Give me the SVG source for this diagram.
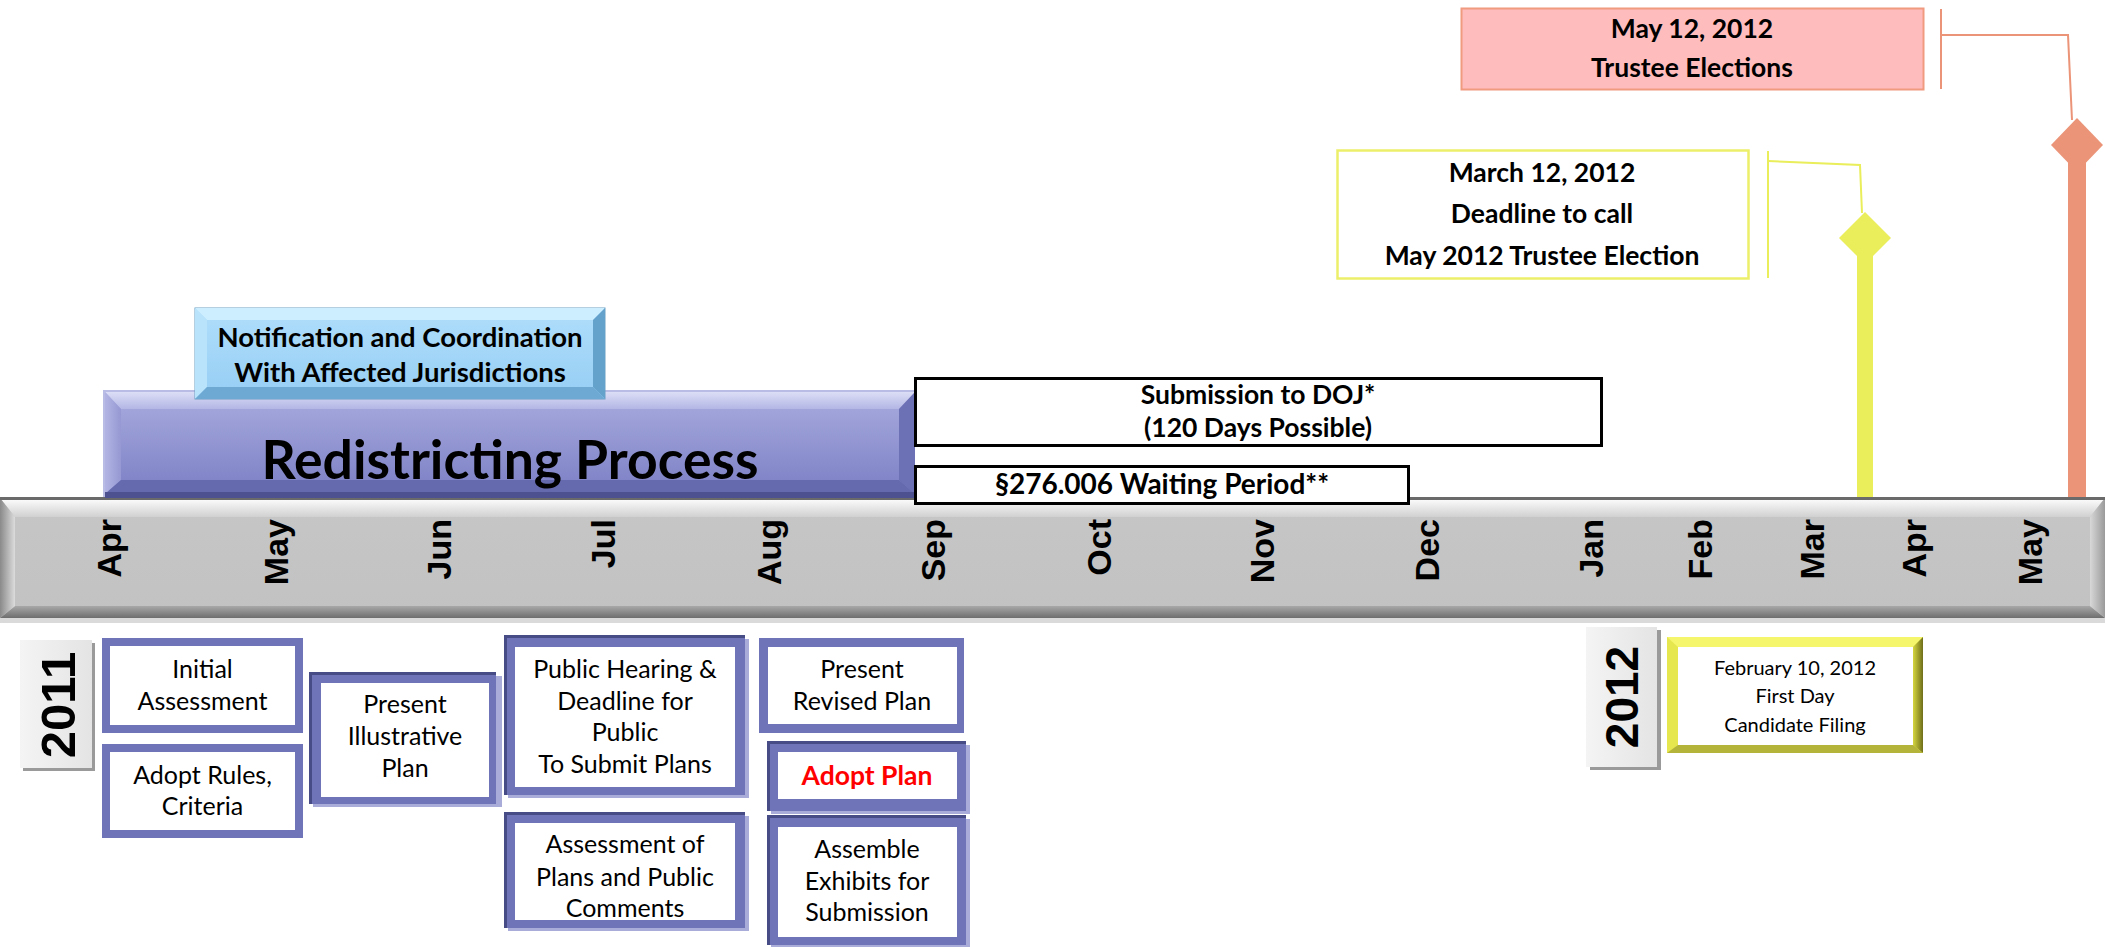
<svg xmlns="http://www.w3.org/2000/svg" width="2105" height="947" viewBox="0 0 2105 947">
<defs>
<linearGradient id="gBar" x1="0" y1="0" x2="0" y2="1">
<stop offset="0" stop-color="#c6c6c6"/><stop offset="1" stop-color="#c2c2c2"/>
</linearGradient>
<linearGradient id="gBarTop" x1="0" y1="0" x2="0" y2="1">
<stop offset="0" stop-color="#ffffff"/><stop offset="1" stop-color="#d0d0d0"/>
</linearGradient>
<linearGradient id="gBarBot" x1="0" y1="0" x2="0" y2="1">
<stop offset="0" stop-color="#a8a8a8"/><stop offset="1" stop-color="#6e6e6e"/>
</linearGradient>
<linearGradient id="gBarLeft" x1="0" y1="0" x2="1" y2="0">
<stop offset="0" stop-color="#8a8a8a"/><stop offset="1" stop-color="#dcdcdc"/>
</linearGradient>
<linearGradient id="gBarRight" x1="0" y1="0" x2="1" y2="0">
<stop offset="0" stop-color="#d8d8d8"/><stop offset="1" stop-color="#9a9a9a"/>
</linearGradient>
<linearGradient id="gRed" x1="0" y1="0" x2="0" y2="1">
<stop offset="0" stop-color="#a9acde"/><stop offset="1" stop-color="#7a7ec4"/>
</linearGradient>
<linearGradient id="gRedTop" x1="0" y1="0" x2="0" y2="1">
<stop offset="0" stop-color="#dcdef6"/><stop offset="1" stop-color="#b3b6e4"/>
</linearGradient>
<linearGradient id="gRedLeft" x1="0" y1="0" x2="1" y2="0">
<stop offset="0" stop-color="#b2b5e3"/><stop offset="1" stop-color="#9598d2"/>
</linearGradient>
<linearGradient id="gNot" x1="0" y1="0" x2="0" y2="1">
<stop offset="0" stop-color="#b0defb"/><stop offset="1" stop-color="#96cef4"/>
</linearGradient>
<linearGradient id="gYel" x1="0" y1="0" x2="1" y2="0">
<stop offset="0" stop-color="#d6d640"/><stop offset="1" stop-color="#6f6f1a"/>
</linearGradient>
<linearGradient id="gYear" x1="0" y1="0" x2="1" y2="0">
<stop offset="0" stop-color="#f4f4f4"/><stop offset="1" stop-color="#e4e4e4"/>
</linearGradient>
</defs>
<style>
.t{font-family:Lato,"Open Sans","Liberation Sans",sans-serif;font-size:25px;text-anchor:middle;fill:#000}
.b{font-weight:bold;font-size:26.5px}
.m{font-family:"Liberation Sans",Arial,sans-serif;font-weight:bold;font-size:34px;text-anchor:end;fill:#000}
.yr{font-family:"Liberation Sans",Arial,sans-serif;font-weight:bold;text-anchor:middle;fill:#000}
.frame{fill:#6f74b9}
.inner{fill:#ffffff}
.shadow{fill:#a9acd9}
.edge{fill:#474b86}
</style>

<g id="connectors">
<polyline points="1941,35 2068,35 2072,120" fill="none" stroke="#eb9478" stroke-width="2"/>
<line x1="1941" y1="9" x2="1941" y2="89" stroke="#eb9478" stroke-width="2"/>
<polyline points="1768,161 1860,165 1862,213" fill="none" stroke="#e9ee5a" stroke-width="2"/>
<line x1="1768" y1="151" x2="1768" y2="278" stroke="#e9ee5a" stroke-width="2"/>
</g>

<g id="pole-may">
<rect x="2068" y="140" width="18" height="360" fill="#eb9478"/>
<polygon points="2077,118 2103,145 2077,172 2051,145" fill="#eb9478"/>
</g>
<g id="pole-march">
<rect x="1857" y="235" width="16" height="265" fill="#e9ee5a"/>
<polygon points="1865,212 1891,238 1865,264 1839,238" fill="#e9ee5a"/>
</g>

<g id="trustee-elections">
<rect x="1461.5" y="8.5" width="462" height="81" fill="#ffbcbc" stroke="#f09a80" stroke-width="2"/>
<text class="t b" x="1692" y="38">May 12, 2012</text>
<text class="t b" x="1692" y="77">Trustee Elections</text>
</g>

<g id="march-deadline">
<rect x="1337.5" y="150.5" width="411" height="128" fill="#ffffff" stroke="#ecef6a" stroke-width="2.5"/>
<text class="t b" x="1542" y="182">March 12, 2012</text>
<text class="t b" x="1542" y="223">Deadline to call</text>
<text class="t b" x="1542" y="265">May 2012 Trustee Election</text>
</g>

<g id="timeline-bar">
<rect x="0" y="617" width="2105" height="6" fill="#dadada"/>
<rect x="0" y="498" width="2105" height="120" fill="url(#gBar)"/>
<polygon points="0,498 2105,498 2090,517 15,517" fill="url(#gBarTop)"/>
<polygon points="0,618 15,606 2090,606 2105,618" fill="url(#gBarBot)"/>
<polygon points="0,498 15,517 15,606 0,618" fill="url(#gBarLeft)"/>
<polygon points="2105,498 2090,517 2090,606 2105,618" fill="url(#gBarRight)"/>
<rect x="0" y="497" width="2105" height="3" fill="#6a6a6a"/>
<text class="m" x="121" y="519" transform="rotate(-90 121 519)">Apr</text>
<text class="m" x="288" y="519" transform="rotate(-90 288 519)">May</text>
<text class="m" x="451" y="519" transform="rotate(-90 451 519)">Jun</text>
<text class="m" x="615" y="519" transform="rotate(-90 615 519)">Jul</text>
<text class="m" x="781" y="519" transform="rotate(-90 781 519)">Aug</text>
<text class="m" x="945" y="519" transform="rotate(-90 945 519)">Sep</text>
<text class="m" x="1111" y="519" transform="rotate(-90 1111 519)">Oct</text>
<text class="m" x="1274" y="519" transform="rotate(-90 1274 519)">Nov</text>
<text class="m" x="1439" y="519" transform="rotate(-90 1439 519)">Dec</text>
<text class="m" x="1603" y="519" transform="rotate(-90 1603 519)">Jan</text>
<text class="m" x="1712" y="519" transform="rotate(-90 1712 519)">Feb</text>
<text class="m" x="1824" y="519" transform="rotate(-90 1824 519)">Mar</text>
<text class="m" x="1926" y="519" transform="rotate(-90 1926 519)">Apr</text>
<text class="m" x="2042" y="519" transform="rotate(-90 2042 519)">May</text>
</g>

<g id="redistricting-process">
<rect x="103" y="390" width="812" height="107" fill="#b9bce4"/>
<rect x="105" y="392" width="810" height="105" fill="url(#gRed)"/>
<polygon points="105,392 915,392 899,409 121,409" fill="url(#gRedTop)"/>
<polygon points="105,392 121,409 121,480 105,494" fill="url(#gRedLeft)"/>
<polygon points="915,392 915,494 899,480 899,409" fill="#6c70b4"/>
<polygon points="105,494 121,480 899,480 915,494" fill="#6569ae"/>
<rect x="105" y="492" width="810" height="6" fill="#4d5190"/>
<text class="t b" x="510" y="479" style="font-size:53.5px">Redistricting Process</text>
</g>

<g id="notification">
<rect x="195" y="308" width="410" height="91" fill="url(#gNot)" stroke="#6d9ec2" stroke-width="1"/>
<polygon points="195,308 605,308 593,320 207,320" fill="#cdeefe"/>
<polygon points="195,308 207,320 207,387 195,399" fill="#b8e3fb"/>
<polygon points="605,308 605,399 593,387 593,320" fill="#64a2cb"/>
<polygon points="195,399 207,387 593,387 605,399" fill="#6ea9d3"/>
<text class="t b" x="400" y="347" style="font-size:27.5px">Notification and Coordination</text>
<text class="t b" x="400" y="382" style="font-size:27.5px">With Affected Jurisdictions</text>
</g>

<g id="submission-doj">
<rect x="915.5" y="378.5" width="686" height="67" fill="#ffffff" stroke="#000" stroke-width="3"/>
<text class="t b" x="1258" y="404">Submission to DOJ*</text>
<text class="t b" x="1258" y="437">(120 Days Possible)</text>
</g>

<g id="waiting-period">
<rect x="915.5" y="466.5" width="493" height="37" fill="#ffffff" stroke="#000" stroke-width="3"/>
<text class="t b" x="1162" y="494" style="font-size:28px">§276.006 Waiting Period**</text>
</g>

<g id="year-2011">
<rect x="23" y="643" width="72" height="128" fill="#9a9a9a"/>
<rect x="20" y="640" width="72" height="128" fill="url(#gYear)"/>
<text class="yr" x="75" y="705" style="font-size:49px" transform="rotate(-90 75 705)">2011</text>
</g>

<g id="initial-assessment">
<rect class="frame" x="102" y="638" width="201" height="95"/>
<rect class="inner" x="110" y="646" width="185" height="79"/>
<text class="t" x="202.5" y="678">Initial</text>
<text class="t" x="202.5" y="710">Assessment</text>
</g>

<g id="adopt-rules">
<rect class="frame" x="102" y="744" width="201" height="94"/>
<rect class="inner" x="110" y="752" width="185" height="78"/>
<text class="t" x="202.5" y="784">Adopt Rules,</text>
<text class="t" x="202.5" y="815">Criteria</text>
</g>

<g id="present-illustrative">
<rect class="shadow" x="313" y="676" width="189" height="131"/>
<rect class="frame" x="309" y="672" width="187" height="132"/>
<rect class="edge" x="309" y="672" width="187" height="3"/>
<rect class="edge" x="309" y="672" width="3" height="132"/>
<rect class="inner" x="321" y="683" width="168" height="114"/>
<text class="t" x="405" y="713">Present</text>
<text class="t" x="405" y="745">Illustrative</text>
<text class="t" x="405" y="777">Plan</text>
</g>

<g id="public-hearing">
<rect class="shadow" x="508" y="639" width="241" height="159"/>
<rect class="frame" x="504" y="635" width="241" height="160"/>
<rect class="edge" x="504" y="635" width="241" height="3"/>
<rect class="edge" x="504" y="635" width="3" height="160"/>
<rect class="inner" x="515" y="647" width="220" height="140"/>
<text class="t" x="625" y="678">Public Hearing &amp;</text>
<text class="t" x="625" y="710">Deadline for</text>
<text class="t" x="625" y="741">Public</text>
<text class="t" x="625" y="773">To Submit Plans</text>
</g>

<g id="assessment-plans">
<rect class="shadow" x="508" y="816" width="241" height="115"/>
<rect class="frame" x="504" y="812" width="241" height="116"/>
<rect class="edge" x="504" y="812" width="241" height="3"/>
<rect class="edge" x="504" y="812" width="3" height="116"/>
<rect class="inner" x="515" y="823" width="220" height="97"/>
<text class="t" x="625" y="853">Assessment of</text>
<text class="t" x="625" y="886">Plans and Public</text>
<text class="t" x="625" y="917">Comments</text>
</g>

<g id="present-revised">
<rect class="frame" x="759" y="638" width="205" height="95"/>
<rect class="inner" x="768" y="647" width="189" height="77"/>
<text class="t" x="862" y="678">Present</text>
<text class="t" x="862" y="710">Revised Plan</text>
</g>

<g id="adopt-plan">
<rect class="shadow" x="771" y="745" width="199" height="69"/>
<rect class="frame" x="767" y="741" width="199" height="70"/>
<rect class="edge" x="767" y="741" width="199" height="3"/>
<rect class="edge" x="767" y="741" width="3" height="70"/>
<rect class="inner" x="778" y="752" width="179" height="47"/>
<text class="t b" x="867" y="785" style="fill:#ff0000">Adopt Plan</text>
</g>

<g id="assemble-exhibits">
<rect class="shadow" x="771" y="819" width="199" height="128"/>
<rect class="frame" x="767" y="815" width="199" height="130"/>
<rect class="edge" x="767" y="815" width="199" height="3"/>
<rect class="edge" x="767" y="815" width="3" height="130"/>
<rect class="inner" x="778" y="827" width="179" height="110"/>
<text class="t" x="867" y="858">Assemble</text>
<text class="t" x="867" y="890">Exhibits for</text>
<text class="t" x="867" y="921">Submission</text>
</g>

<g id="year-2012">
<rect x="1590" y="630" width="71" height="140" fill="#9a9a9a"/>
<rect x="1586" y="627" width="71" height="140" fill="url(#gYear)"/>
<text class="yr" x="1638" y="697" style="font-size:46px" transform="rotate(-90 1638 697)">2012</text>
</g>

<g id="first-day-filing">
<rect x="1667" y="637" width="256" height="116" fill="#e6e64e"/>
<polygon points="1667,637 1923,637 1913,647 1678,647" fill="#f6f66c"/>
<polygon points="1923,637 1923,753 1913,745 1913,647" fill="url(#gYel)"/>
<polygon points="1667,753 1678,745 1913,745 1923,753" fill="#b4b43a"/>
<rect x="1678" y="647" width="235" height="98" fill="#ffffff"/>
<text class="t" x="1795" y="675" style="font-size:20px">February 10, 2012</text>
<text class="t" x="1795" y="703" style="font-size:20px">First Day</text>
<text class="t" x="1795" y="732" style="font-size:20px">Candidate Filing</text>
</g>
</svg>
